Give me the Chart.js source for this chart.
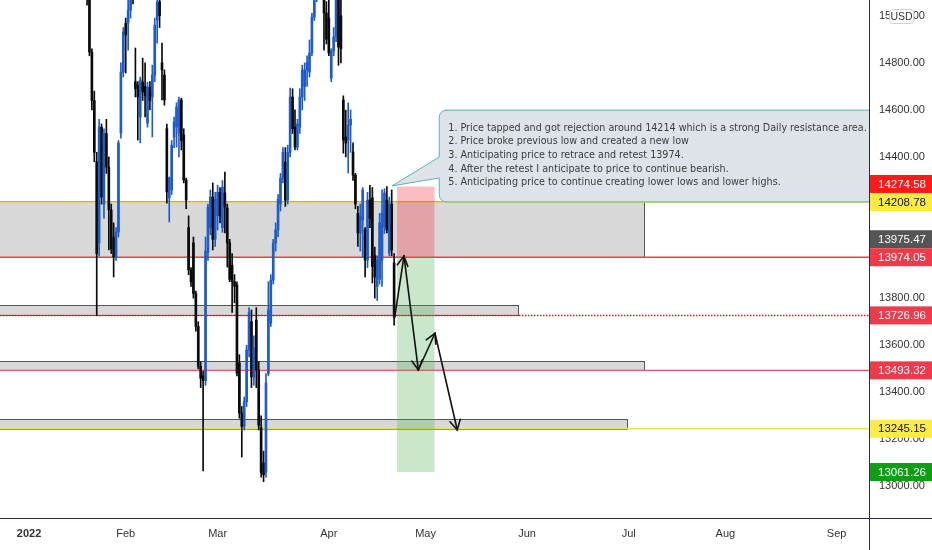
<!DOCTYPE html>
<html><head><meta charset="utf-8">
<script src="https://cdn.jsdelivr.net/npm/chart.js@4.4.0/dist/chart.umd.min.js"></script>
<style>html,body{margin:0;padding:0;background:#fff}#wrap{width:932px;height:550px;position:relative}</style>
</head><body><div id="wrap"><canvas id="c"></canvas></div>
<script>
// ---- DATA ----
// 4-hour bars, two per trading session; bar index 0 = 3 Jan 2022 (x axis unit = trading sessions)
const firstBar = 20;
const opens = [
15600,15500,15350,15200,15250,15120,14846,14640,14380,14035,
14527,14200,14500,14357,14175,14060,13975,14081,14502,14761,
14969,14969,15024,15150,14720,14705,14570,14718,14700,14544,
14697,14655,14748,14982,15060,14800,14748,14520,14226,14260,
14485,14527,14500,14642,14493,14302,14100,13920,14035,13820,
13680,13510,13470,13450,13995,14100,14230,14050,14150,14250,
14100,14247,14183,14035,13940,13870,13856,13525,13312,13255,
13360,13580,13700,13465,13707,13495,13250,13100,13060,13480,
13694,13877,14035,14090,14200,14310,14379,14217,14420,14655,
14527,14442,14527,14655,14700,14770,14761,14842,14994,15100,
15200,15250,15150,15012,14990,14735,14850,14910,15150,15000,
14642,14485,14472,14536,14421,14323,14160,14077,14132,14090,
13962,14217,14226,13983,13850,13880,13962,14102,14217,13992,
14200,13950];
const highs = [
15700,15550,15420,15300,15300,15150,14860,14680,14420,14560,
14540,14520,14560,14400,14200,14120,14100,14470,14800,14950,
14990,15080,15200,15250,14863,14720,14740,14820,14800,14718,
14720,14790,14990,15100,15150,14884,14770,14540,14315,14470,
14570,14630,14655,14650,14520,14310,14150,13930,14060,13830,
13700,13530,13490,14060,14200,14260,14290,14250,14280,14270,
14300,14336,14200,14050,13990,13900,13870,13560,13340,13380,
13600,13760,13750,13640,13760,13530,13300,13150,13480,13870,
13900,14050,14120,14240,14330,14440,14440,14450,14693,14690,
14600,14560,14690,14790,14800,14830,14897,15010,15150,15250,
15300,15320,15220,15060,15070,14860,14950,15200,15200,15100,
14660,14599,14630,14600,14460,14330,14190,14200,14270,14100,
14250,14280,14270,14017,13980,14160,14260,14265,14274,14230,
14260,13990];
const lows = [
15450,15300,15150,15080,15045,14830,14600,14380,13727,13980,
14200,14140,14330,14005,13990,13890,13960,14060,14480,14740,
14757,14854,14990,15050,14655,14472,14460,14640,14570,14527,
14600,14485,14720,14884,14950,14642,14620,14204,14124,14240,
14440,14442,14400,14430,14290,14180,13900,13850,13800,13660,
13500,13420,13066,13430,13960,14070,14005,14020,14090,14120,
14080,14077,13932,13870,13740,13780,13470,13290,13125,13240,
13340,13550,13420,13430,13420,13240,13040,13020,13040,13470,
13680,13860,14000,14060,14170,14290,14190,14200,14400,14500,
14430,14430,14500,14600,14640,14700,14740,14830,14980,15060,
15120,15150,14854,14880,14830,14720,14830,14890,14790,14800,
14416,14400,14332,14420,14300,14180,14020,14000,13975,13890,
13930,14100,13865,13800,13790,13860,13850,14075,14077,13980,
13980,13685];
const closes = [
15500,15350,15200,15250,15120,14846,14640,14420,13990,14527,
14230,14500,14357,14175,14010,13975,14080,14459,14761,14931,
14918,15024,15150,15080,14690,14655,14727,14676,14660,14697,
14640,14748,14960,15058,15000,14770,14642,14251,14311,14450,
14549,14612,14642,14470,14302,14217,13920,13870,13820,13680,
13510,13460,13450,14000,14187,14230,14050,14220,14250,14150,
14272,14187,14035,13880,13870,13850,13482,13312,13255,13360,
13580,13740,13465,13590,13495,13260,13060,13050,13440,13750,
13877,14035,14090,14220,14310,14420,14217,14420,14655,14520,
14442,14540,14655,14769,14770,14800,14842,14994,15100,15200,
15250,15180,15012,14900,14842,14850,14910,15150,14867,14860,
14472,14459,14536,14560,14323,14200,14077,14150,14260,13962,
14217,14140,13933,13890,13962,14120,14162,14247,14090,14200,
14005,13720];

// axis
const xTickDays = [0, 20, 39, 62, 82, 103, 124, 144, 167];
const xTickLabels = ['2022','Feb','Mar','Apr','May','Jun','Jul','Aug','Sep'];
const yTickValues = [15000,14800,14600,14400,13800,13600,13400,13200,13000];
const X_MIN = -6, X_MAX = 173.7, Y_MIN = 12866, Y_MAX = 15067;

// zones (grey rectangles) — start left of view, end day, top & bottom prices
const zoneEnds = [127.2, 101.1, 127.2, 123.65];
const zoneTops = [14214, 13770, 13531, 13287];
const zoneBottoms = [13974.05, 13726.96, 13493.32, 13245.15];

// horizontal levels
const levelValues = [14208.78, 13974.05, 13726.96, 13493.32, 13245.15];

// trade (short position) box
const tradeStartDay = 76.1, tradeEndDay = 83.85;
const stopPrice = 14274.58, entryPrice = 13974.05, targetPrice = 13061.26;

// projected path (arrows)
const pathDays = [75.6, 77.54, 80.5, 83.95, 88.56];
const pathPrices = [13716, 13979, 13495, 13651, 13240];

// note callout
const noteLines = [
 '1. Price tapped and got rejection around 14214 which is a strong Daily resistance area.',
 '2. Price broke previous low and created a new low',
 '3. Anticipating price to retrace and retest 13974.',
 '4. After the retest I anticipate to price to continue bearish.',
 '5. Anticipating price to continue creating lower lows and lower highs.'
];
const noteLeftDay = 84.84, noteTop = 14599, noteBottom = 14209;
const noteAnchorDay = 75.06, noteAnchorPrice = 14277;
const noteTailPrices = [14400, 14311];

// price labels on the right axis
const priceLabels = [14274.58, 14208.78, 13975.47, 13974.05, 13726.96, 13493.32, 13245.15, 13061.26];

// ---- STYLES ----
const UP = '#1d5ccc', DOWN = '#0a0a0a';
const levelColors = ['#e8d64a', '#e8404e', '#c62828', '#ef5361', '#eee055'];
const levelWidths = [1.5, 1.5, 1.5, 1.2, 1.5];
const levelDashes = [[], [], [1.5, 1.5], [], []];
const labelBg = ['#ff1a1a', '#ffeb3b', '#555555', '#ee3a4a', '#ee3a4a', '#ee3a4a', '#fdeb4c', '#0f9d14'];
const labelFg = ['#fff', '#111', '#fff', '#fff', '#fff', '#fff', '#111', '#fff'];
const FONT = '"Liberation Sans", Arial, sans-serif';

const wickData = opens.map((o, i) => ({x: (firstBar + i) / 2, y: [Math.min(lows[i], o, closes[i]), Math.max(highs[i], o, closes[i])]}));
const bodyData = opens.map((o, i) => ({x: (firstBar + i) / 2, y: [o, closes[i]]}));
const barColors = opens.map((o, i) => closes[i] >= o ? UP : DOWN);

const drawings = {
  id: 'drawings',
  beforeDatasetsDraw(chart) {
    const {ctx, chartArea: ca, scales: {x, y}} = chart;
    const px = d => x.getPixelForValue(d), py = v => y.getPixelForValue(v);
    ctx.save();
    ctx.beginPath(); ctx.rect(ca.left, ca.top, ca.width, ca.height); ctx.clip();
    // zones
    zoneEnds.forEach((e, i) => {
      const x0 = ca.left - 5, x1 = Math.round(px(e)) + 0.5;
      const y0 = Math.round(py(zoneTops[i])) + 0.5, y1 = Math.round(py(zoneBottoms[i])) + 0.5;
      ctx.fillStyle = '#d8d8d8';
      ctx.fillRect(x0, y0, x1 - x0, y1 - y0);
      ctx.strokeStyle = '#555';
      ctx.lineWidth = 1;
      ctx.strokeRect(x0, y0, x1 - x0, y1 - y0);
    });
    // levels
    levelValues.forEach((v, i) => {
      const yy = py(v);
      ctx.beginPath();
      ctx.strokeStyle = levelColors[i];
      ctx.lineWidth = levelWidths[i];
      ctx.setLineDash(levelDashes[i]);
      ctx.moveTo(ca.left, yy); ctx.lineTo(ca.right, yy);
      ctx.stroke();
    });
    ctx.setLineDash([]);
    ctx.restore();
  },
  afterDatasetsDraw(chart) {
    const {ctx, chartArea: ca, scales: {x, y}} = chart;
    const px = d => x.getPixelForValue(d), py = v => y.getPixelForValue(v);
    ctx.save();
    ctx.beginPath(); ctx.rect(ca.left, ca.top, ca.width, ca.height); ctx.clip();
    // trade boxes
    const tx0 = px(tradeStartDay), tx1 = px(tradeEndDay);
    ctx.fillStyle = 'rgba(242,54,69,0.33)';
    ctx.fillRect(tx0, py(stopPrice), tx1 - tx0, py(entryPrice) - py(stopPrice));
    ctx.fillStyle = 'rgba(76,175,80,0.30)';
    ctx.fillRect(tx0, py(entryPrice), tx1 - tx0, py(targetPrice) - py(entryPrice));
    // arrows
    ctx.strokeStyle = '#111';
    ctx.lineWidth = 1.6;
    ctx.lineCap = 'round';
    for (let i = 0; i < pathDays.length - 1; i++) {
      const x0 = px(pathDays[i]), y0 = py(pathPrices[i]);
      const x1 = px(pathDays[i + 1]), y1 = py(pathPrices[i + 1]);
      ctx.beginPath(); ctx.moveTo(x0, y0); ctx.lineTo(x1, y1); ctx.stroke();
      const ang = Math.atan2(y1 - y0, x1 - x0), L = 11, a = 0.5;
      ctx.beginPath();
      ctx.moveTo(x1 - L * Math.cos(ang - a), y1 - L * Math.sin(ang - a));
      ctx.lineTo(x1, y1);
      ctx.lineTo(x1 - L * Math.cos(ang + a), y1 - L * Math.sin(ang + a));
      ctx.stroke();
    }
    // callout
    const xl = px(noteLeftDay), xr = ca.right + 20, yt = py(noteTop), yb = py(noteBottom), r = 7;
    const ax = px(noteAnchorDay), ay = py(noteAnchorPrice);
    const t1 = py(noteTailPrices[0]), t2 = py(noteTailPrices[1]);
    ctx.beginPath();
    ctx.moveTo(xl + r, yt);
    ctx.lineTo(xr, yt);
    ctx.lineTo(xr, yb);
    ctx.lineTo(xl + r, yb);
    ctx.arcTo(xl, yb, xl, yb - r, r);
    ctx.lineTo(xl, t2);
    ctx.lineTo(ax, ay);
    ctx.lineTo(xl, t1);
    ctx.lineTo(xl, yt + r);
    ctx.arcTo(xl, yt, xl + r, yt, r);
    ctx.closePath();
    ctx.fillStyle = 'rgba(220,225,232,0.95)';
    ctx.fill();
    ctx.strokeStyle = '#5fb0ba';
    ctx.lineWidth = 1;
    ctx.stroke();
    // note text
    ctx.font = '12px "DejaVu Sans Condensed", "DejaVu Sans", sans-serif';
    const w0 = ctx.measureText(noteLines[0]).width;
    const fs = 12 * 419 / w0;
    ctx.font = fs.toFixed(2) + 'px "DejaVu Sans Condensed", "DejaVu Sans", sans-serif';
    ctx.fillStyle = '#3b3b3b';
    ctx.textBaseline = 'middle';
    ctx.textAlign = 'left';
    noteLines.forEach((t, i) => ctx.fillText(t, xl + 9, yt + 17.7 + i * 13.65));
    ctx.restore();
  },
  afterDraw(chart) {
    const {ctx, chartArea: ca, scales: {y}, width, height} = chart;
    ctx.save();
    // axis borders
    ctx.strokeStyle = '#2a2e39';
    ctx.lineWidth = 1;
    ctx.beginPath();
    ctx.moveTo(0, Math.round(ca.bottom) + 0.5); ctx.lineTo(width, Math.round(ca.bottom) + 0.5);
    ctx.moveTo(Math.round(ca.right) + 0.5, 0); ctx.lineTo(Math.round(ca.right) + 0.5, height);
    ctx.stroke();
    // price labels, stacked bottom-up so they do not overlap
    const H = 18;
    const order = priceLabels.map((v, i) => i).sort((a, b) => priceLabels[a] - priceLabels[b]);
    let prev = Infinity;
    const pos = [];
    order.forEach(i => {
      let c = y.getPixelForValue(priceLabels[i]);
      if (c > prev - H) c = prev - H;
      pos[i] = c; prev = c;
    });
    ctx.font = '11.5px ' + FONT;
    ctx.textAlign = 'center';
    ctx.textBaseline = 'middle';
    priceLabels.forEach((v, i) => {
      const x0 = ca.right + 1;
      ctx.fillStyle = labelBg[i];
      ctx.fillRect(x0, pos[i] - H / 2, width - x0, H);
      ctx.fillStyle = labelFg[i];
      ctx.fillText(v.toFixed(2), (x0 + width) / 2 + 1, pos[i] + 0.5);
    });
    // currency box
    ctx.beginPath();
    ctx.roundRect(889.5, 9.5, 24, 14, 3);
    ctx.fillStyle = '#fff'; ctx.fill();
    ctx.strokeStyle = '#cfcfcf'; ctx.stroke();
    ctx.fillStyle = '#333';
    ctx.font = '10.5px ' + FONT;
    ctx.fillText('USD', 901.5, 17);
    ctx.restore();
  }
};

new Chart(document.getElementById('c'), {
  type: 'bar',
  data: {
    datasets: [
      {data: wickData, backgroundColor: barColors, barThickness: 1, grouped: false, order: 2},
      {data: bodyData, backgroundColor: barColors, barThickness: 2, minBarLength: 1, grouped: false, order: 1}
    ]
  },
  options: {
    responsive: true,
    maintainAspectRatio: false,
    animation: false,
    events: [],
    layout: {padding: 0},
    plugins: {legend: {display: false}, tooltip: {enabled: false}},
    scales: {
      x: {
        type: 'linear', min: X_MIN, max: X_MAX, offset: false,
        grid: {display: false, drawTicks: false}, border: {display: false},
        afterBuildTicks: s => { s.ticks = xTickDays.map(v => ({value: v})); },
        afterFit: s => { s.height = 32; s.paddingLeft = 0; s.paddingRight = 0; },
        ticks: {
          autoSkip: false, maxRotation: 0, padding: 9, color: '#333',
          font: c => ({family: FONT, size: 11, weight: c.index === 0 ? 'bold' : 'normal'}),
          callback: (v, i) => xTickLabels[i]
        }
      },
      y: {
        type: 'linear', position: 'right', min: Y_MIN, max: Y_MAX,
        grid: {display: false, drawTicks: false}, border: {display: false},
        afterBuildTicks: s => { s.ticks = yTickValues.map(v => ({value: v})); },
        afterFit: s => { s.width = 63; s.paddingTop = 0; s.paddingBottom = 0; },
        ticks: {
          autoSkip: false, padding: 10, color: '#333',
          font: {family: FONT, size: 11},
          callback: v => Number(v).toFixed(2)
        }
      }
    }
  },
  plugins: [drawings]
});
</script>
</body></html>
